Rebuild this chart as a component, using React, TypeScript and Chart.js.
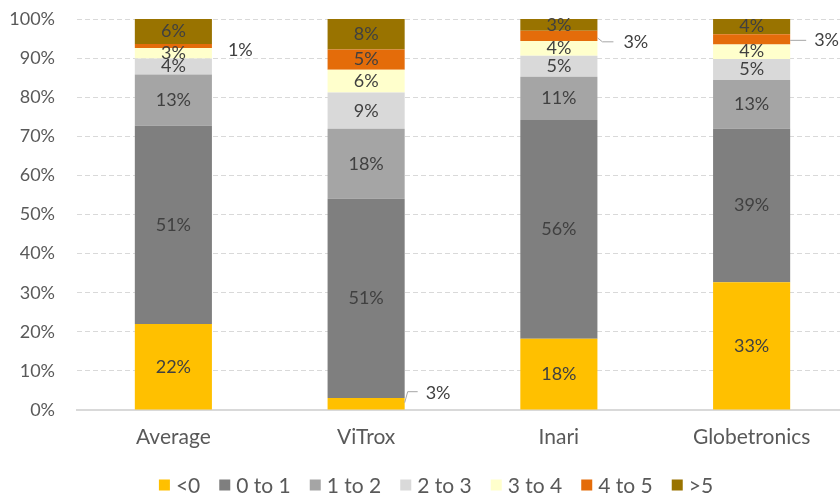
import React, { useEffect, useRef } from "react";
import { Chart, registerables } from "chart.js";

Chart.register(...registerables);

const categories = ["Average", "ViTrox", "Inari", "Globetronics"];
const seriesNames = ["<0", "0 to 1", "1 to 2", "2 to 3", "3 to 4", "4 to 5", ">5"];
const lt0 = [22.0, 3.1, 18.2, 32.7];
const r0to1 = [50.7, 50.9, 56.0, 39.2];
const r1to2 = [13.1, 17.9, 11.0, 12.5];
const r2to3 = [4.1, 9.3, 5.4, 5.4];
const r3to4 = [2.7, 5.8, 3.8, 3.7];
const r4to5 = [1.0, 5.2, 2.6, 2.6];
const gt5 = [6.4, 7.8, 3.0, 3.9];
const yMin = 0;
const yMax = 100;
const yStep = 10;

const seriesValues = [lt0, r0to1, r1to2, r2to3, r3to4, r4to5, gt5];
const seriesColors = ["#FFC000", "#7F7F7F", "#A5A5A5", "#D9D9D9", "#FFFFCC", "#E46C0A", "#997300"];

// callouts for small segments: label drawn outside the bar
const callouts = [
  { ds: 5, cat: 0, line: null as null | number[][], textDx: 16, textDy: 4 },
  { ds: 0, cat: 1, line: [[0, -1], [3, -12], [13, -12]], textDx: 21, textDy: -11 },
  { ds: 5, cat: 2, line: [[0, 2], [5, 6], [16, 6]], textDx: 26, textDy: 6 },
  { ds: 5, cat: 3, line: [[0, 1], [16, 1]], textDx: 24, textDy: 1 },
];

const FONT = "Lato, 'Open Sans', sans-serif";

const labelPlugin = {
  id: "segLabels",
  afterDatasetsDraw(chart: any) {
    const ctx = chart.ctx;
    ctx.save();
    ctx.font = `18px ${FONT}`;
    ctx.fillStyle = "#404040";
    ctx.textBaseline = "middle";
    chart.data.datasets.forEach((ds: any, di: number) => {
      const meta = chart.getDatasetMeta(di);
      meta.data.forEach((el: any, ci: number) => {
        const v = ds.data[ci];
        const text = Math.round(v) + "%";
        const cy = (el.y + el.base) / 2;
        const right = el.x + el.width / 2;
        const co = callouts.find((c) => c.ds === di && c.cat === ci);
        if (co) {
          if (co.line) {
            ctx.strokeStyle = "#A6A6A6";
            ctx.lineWidth = 1;
            ctx.beginPath();
            co.line.forEach((p, i) => {
              const px = right + p[0];
              const py = cy + p[1];
              if (i === 0) ctx.moveTo(px, py);
              else ctx.lineTo(px, py);
            });
            ctx.stroke();
          }
          ctx.textAlign = "left";
          ctx.fillText(text, right + co.textDx, cy + co.textDy);
        } else {
          ctx.textAlign = "center";
          ctx.fillText(text, el.x, cy);
        }
      });
    });
    ctx.restore();
  },
};

const legendPlugin = {
  id: "customLegend",
  afterDraw(chart: any) {
    const ctx = chart.ctx;
    ctx.save();
    ctx.font = `21px ${FONT}`;
    ctx.textBaseline = "middle";
    ctx.textAlign = "left";
    const box = 11;
    const gap = 6;
    const itemGap = 19;
    const widths = seriesNames.map((n) => box + gap + ctx.measureText(n).width);
    const total = widths.reduce((a, b) => a + b, 0) + itemGap * (seriesNames.length - 1);
    const centerX = 436;
    const cy = 485;
    let x = centerX - total / 2;
    seriesNames.forEach((n, i) => {
      ctx.fillStyle = seriesColors[i];
      ctx.fillRect(x, cy - box / 2, box, box);
      ctx.fillStyle = "#595959";
      ctx.fillText(n, x + box + gap, cy + 1);
      x += widths[i] + itemGap;
    });
    ctx.restore();
  },
};

export default function App() {
  const ref = useRef<HTMLCanvasElement>(null);
  useEffect(() => {
    if (!ref.current) return;
    const chart = new Chart(ref.current, {
      type: "bar",
      data: {
        labels: categories,
        datasets: seriesNames.map((name, i) => ({
          label: name,
          data: seriesValues[i],
          backgroundColor: seriesColors[i],
          borderWidth: 0,
          barPercentage: 0.4,
          categoryPercentage: 1,
        })),
      },
      options: {
        animation: false,
        responsive: false,
        maintainAspectRatio: false,
        layout: { autoPadding: false, padding: { top: 19, right: 8, left: 0, bottom: 0 } },
        plugins: { legend: { display: false }, tooltip: { enabled: false } },
        scales: {
          x: {
            stacked: true,
            grid: { display: false, drawTicks: false },
            border: { display: true, color: "#D9D9D9", width: 2 },
            ticks: { color: "#595959", font: { family: FONT, size: 21 }, padding: 15 },
            afterFit: (s: any) => {
              s.height = 88;
            },
          },
          y: {
            stacked: true,
            min: yMin,
            max: yMax,
            grid: { color: "#D9D9D9", lineWidth: 1, drawTicks: false },
            border: { display: false, dash: [5, 3] },
            ticks: {
              stepSize: yStep,
              color: "#595959",
              font: { family: FONT, size: 18 },
              padding: 22,
              callback: (v: any) => v + "%",
            },
            afterFit: (s: any) => {
              s.width = 77;
              s.paddingTop = 0;
              s.paddingBottom = 0;
            },
          },
        },
      },
      plugins: [labelPlugin, legendPlugin],
    });
    return () => chart.destroy();
  }, []);
  return (
    <div style={{ position: "absolute", left: 0, top: 0, width: 840, height: 498, overflow: "hidden", background: "#fff" }}>
      <canvas ref={ref} width={856} height={498} style={{ width: 856, height: 498, display: "block" }} />
    </div>
  );
}
